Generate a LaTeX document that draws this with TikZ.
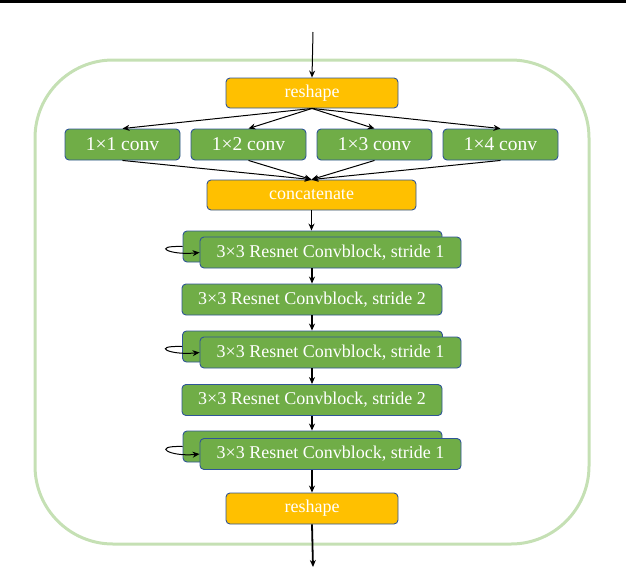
\documentclass[tikz,border=0pt]{standalone}
\usepackage{fontspec}
\setmainfont{Liberation Serif}
\usetikzlibrary{arrows.meta}
\definecolor{boxgreen}{HTML}{70AD47}
\definecolor{boxorange}{HTML}{FFC000}
\definecolor{boxedge}{HTML}{2F5597}
\definecolor{frame}{HTML}{C5E0B4}
\tikzset{
  blk/.style={draw=boxedge, line width=0.9pt, rounded corners=4pt, inner sep=0pt, text=white, font=\fontsize{18}{18}\selectfont, anchor=center},
  gbox/.style={blk, fill=boxgreen},
  obox/.style={blk, fill=boxorange},
  cbox/.style={gbox, font=\fontsize{19.5}{19.5}\selectfont},
  arr/.style={-{Stealth[length=7pt,width=6pt]}, line width=1pt, black},
  varr/.style={-{Stealth[length=7pt,width=6pt]}, line width=1.8pt, black},
}
\begin{document}
\begin{tikzpicture}[x=1pt,y=-1pt]
\useasboundingbox (0,0) rectangle (626,568);
\fill[black] (0,0) rectangle (626,3);
\draw[frame, line width=3pt, rounded corners=78pt] (35,60) rectangle (589,544);
\coordinate (in) at (313,32);
\coordinate (out) at (313,567);
\node[obox, minimum width=172pt, minimum height=30pt] (rs1) at (312,93) {reshape};
\node[cbox, minimum width=115pt, minimum height=31pt] (c1) at (122.5,144.5) {1×1 conv};
\node[cbox, minimum width=115pt, minimum height=31pt] (c2) at (248.5,144.5) {1×2 conv};
\node[cbox, minimum width=115pt, minimum height=31pt] (c3) at (374.5,144.5) {1×3 conv};
\node[cbox, minimum width=115pt, minimum height=31pt] (c4) at (500.5,144.5) {1×4 conv};
\node[obox, minimum width=209pt, minimum height=30pt] (cat) at (311.5,195) {concatenate};
\node[gbox, minimum width=259pt, minimum height=31pt] (r1b) at (312.5,246.5) {};
\node[gbox, minimum width=261pt, minimum height=31pt] (r1f) at (330.5,252.5) {3×3 Resnet Convblock, stride 1};
\node[gbox, minimum width=260pt, minimum height=31pt] (s2a) at (312,299.5) {3×3 Resnet Convblock, stride 2};
\node[gbox, minimum width=260pt, minimum height=31pt] (r3b) at (312.5,346.5) {};
\node[gbox, minimum width=261pt, minimum height=31pt] (r3f) at (330.5,352.5) {3×3 Resnet Convblock, stride 1};
\node[gbox, minimum width=260pt, minimum height=31pt] (s2b) at (312,400) {3×3 Resnet Convblock, stride 2};
\node[gbox, minimum width=259pt, minimum height=31pt] (r5b) at (312.5,446.5) {};
\node[gbox, minimum width=261pt, minimum height=31pt] (r5f) at (330.5,454) {3×3 Resnet Convblock, stride 1};
\node[obox, minimum width=172pt, minimum height=31pt] (rs2) at (312,508.5) {reshape};
\draw[arr] (in) -- (rs1.north);
\foreach \c in {c1,c2,c3,c4} {
  \draw[arr] (rs1.south) -- (\c.north);
  \draw[arr] (\c.south) -- (cat.north);
}
\draw[varr] (cat.south) -- (cat.south |- r1b.north);
\draw[varr] (s2a.north |- r1f.south) -- (s2a.north);
\draw[varr] (s2a.south) -- (s2a.south |- r3b.north);
\draw[varr] (s2b.north |- r3f.south) -- (s2b.north);
\draw[varr] (s2b.south) -- (s2b.south |- r5b.north);
\draw[varr] (rs2.north |- r5f.south) -- (rs2.north);
\draw[varr] (rs2.south) -- (out);
\foreach \b/\f in {r1b/r1f, r3b/r3f, r5b/r5f} {
  \draw[arr] (\b.west) .. controls +(-32,-1) and +(-30,3) .. (\f.west);
}
\end{tikzpicture}
\end{document}
